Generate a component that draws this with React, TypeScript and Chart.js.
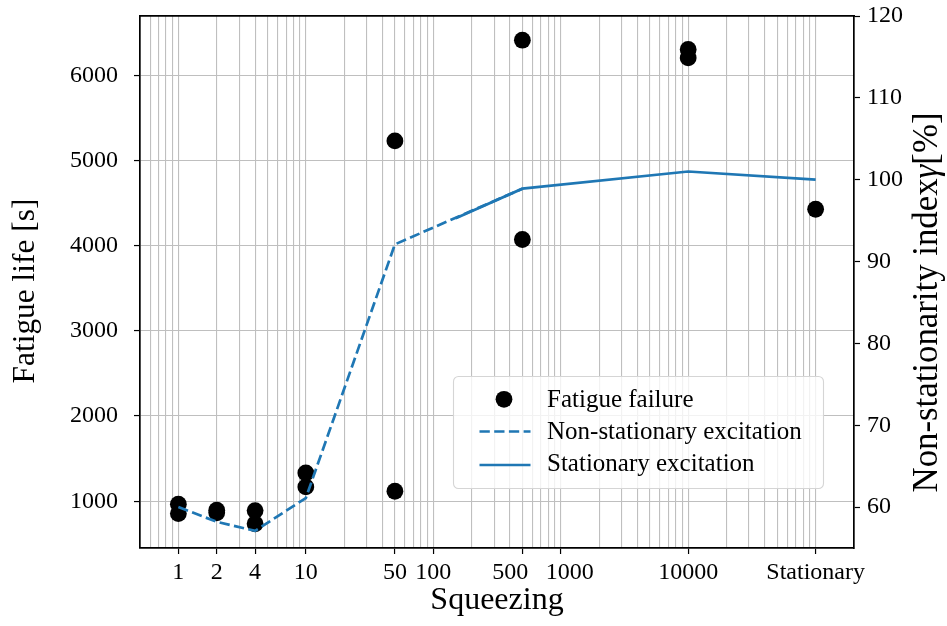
import React, { useEffect, useRef } from "react";
import { Chart, registerables } from "chart.js";

Chart.register(...registerables);

// ---- data ----
const squeezingTicks = [1, 2, 4, 10, 50, 100, 500, 1000, 10000, 100000];
const squeezingTickLabels = ["1", "2", "4", "10", "50", "100", "500\u2002\u2002", "\u2002 1000", "10000", "Stationary"];
const minorGridValues = [
  0.6, 0.7, 0.8, 0.9,
  3, 5, 6, 7, 8, 9,
  20, 30, 40, 60, 70, 80, 90,
  200, 300, 400, 600, 700, 800, 900,
  2000, 3000, 4000, 5000, 6000, 7000, 8000, 9000,
  20000, 30000, 40000, 50000, 60000, 70000, 80000, 90000,
];
const lifeTicks = [1000, 2000, 3000, 4000, 5000, 6000];
const indexTicks = [60, 70, 80, 90, 100, 110, 120];

const failureSqueezing = [1, 1, 2, 2, 4, 4, 10, 10, 50, 50, 500, 500, 10000, 10000, 100000];
const failureLife = [965, 855, 895, 865, 890, 735, 1332, 1168, 5229, 1117, 6411, 4072, 6302, 6203, 4427];

const nonStatSqueezing = [1, 2, 4, 10, 50, 500];
const nonStatIndex = [60.0, 58.2, 57.1, 61.1, 92.1, 98.9];

const statSqueezing = [150, 500, 10000, 100000];
const statIndex = [95.3, 98.9, 101.0, 100.0];

const legendLabels = ["Fatigue failure", "Non-stationary excitation", "Stationary excitation"];

export default function App() {
  const ref = useRef<HTMLCanvasElement>(null);

  useEffect(() => {
    document.body.style.margin = "0";
    const canvas = ref.current;
    if (!canvas) return;

    const FONT = "'Liberation Serif', 'Times New Roman', serif";
    const BLUE = "#1f77b4";
    const GRID = "#bfbfbf";
    const DASH = [10.3, 4.4];
    const LW = 2.7;
    const R = 8.4;

    const allX = [...squeezingTicks, ...minorGridValues].sort((a, b) => a - b);
    const isMajor = (v: number) => squeezingTicks.indexOf(v) >= 0;

    const overlay = {
      id: "overlay",
      afterDraw(chart: any) {
        const ctx = chart.ctx as CanvasRenderingContext2D;
        ctx.save();
        ctx.fillStyle = "#000";
        ctx.textBaseline = "alphabetic";

        // left title
        {
          const text = "Fatigue life [s]";
          const target = 185;
          ctx.font = `32px ${FONT}`;
          const w0 = ctx.measureText(text).width;
          const size = (32 * target) / w0;
          ctx.font = `${size}px ${FONT}`;
          ctx.save();
          ctx.translate(34.3, 291);
          ctx.rotate(-Math.PI / 2);
          ctx.textAlign = "center";
          ctx.fillText(text, 0, 0);
          ctx.restore();
        }
        // right title
        {
          const parts = [
            { t: "Non-stationarity index", it: false },
            { t: "\u03B3", it: true },
            { t: "[%]", it: false },
          ];
          const target = 380;
          const measure = (s: number) =>
            parts.reduce((acc, p) => {
              ctx.font = `${p.it ? "italic " : ""}${s}px ${FONT}`;
              return acc + ctx.measureText(p.t).width;
            }, 0);
          const size = (32 * target) / measure(32);
          const total = measure(size);
          ctx.save();
          ctx.translate(936.7, 302.5);
          ctx.rotate(-Math.PI / 2);
          ctx.textAlign = "left";
          let x = -total / 2;
          for (const p of parts) {
            ctx.font = `${p.it ? "italic " : ""}${size}px ${FONT}`;
            ctx.fillText(p.t, x, 0);
            x += ctx.measureText(p.t).width;
          }
          ctx.restore();
        }

        // legend box
        const bx = 453.5, by = 376.5, bw = 370, bh = 112, br = 5;
        ctx.beginPath();
        ctx.moveTo(bx + br, by);
        ctx.lineTo(bx + bw - br, by);
        ctx.arcTo(bx + bw, by, bx + bw, by + br, br);
        ctx.lineTo(bx + bw, by + bh - br);
        ctx.arcTo(bx + bw, by + bh, bx + bw - br, by + bh, br);
        ctx.lineTo(bx + br, by + bh);
        ctx.arcTo(bx, by + bh, bx, by + bh - br, br);
        ctx.lineTo(bx, by + br);
        ctx.arcTo(bx, by, bx + br, by, br);
        ctx.closePath();
        ctx.fillStyle = "rgba(255,255,255,0.8)";
        ctx.fill();
        ctx.strokeStyle = "#d5d5d5";
        ctx.lineWidth = 1.1;
        ctx.stroke();

        const ds = chart.data.datasets;
        // marker
        ctx.beginPath();
        ctx.arc(504, 399.3, R, 0, Math.PI * 2);
        ctx.fillStyle = ds[0].backgroundColor;
        ctx.fill();
        // dashed
        ctx.beginPath();
        ctx.setLineDash(DASH);
        ctx.moveTo(479.5, 431.5);
        ctx.lineTo(530.5, 431.5);
        ctx.strokeStyle = ds[1].borderColor;
        ctx.lineWidth = LW;
        ctx.stroke();
        ctx.setLineDash([]);
        // solid
        ctx.beginPath();
        ctx.moveTo(479.5, 465);
        ctx.lineTo(530.5, 465);
        ctx.strokeStyle = ds[2].borderColor;
        ctx.lineWidth = LW;
        ctx.stroke();

        ctx.fillStyle = "#000";
        ctx.textAlign = "left";
        ctx.font = `25px ${FONT}`;
        const baselines = [406.7, 439.3, 471];
        legendLabels.forEach((l, i) => ctx.fillText(l, 547, baselines[i]));
        ctx.restore();
      },
    };

    const chart = new Chart(canvas, {
      type: "scatter",
      data: {
        datasets: [
          {
            type: "scatter",
            label: legendLabels[0],
            data: failureSqueezing.map((x, i) => ({ x, y: failureLife[i] })),
            xAxisID: "x",
            yAxisID: "y",
            pointRadius: R,
            pointHoverRadius: R,
            backgroundColor: "#000",
            borderColor: "#000",
            borderWidth: 0,
            order: 2,
          },
          {
            type: "line",
            label: legendLabels[1],
            data: nonStatSqueezing.map((x, i) => ({ x, y: nonStatIndex[i] })),
            xAxisID: "x",
            yAxisID: "y2",
            borderColor: BLUE,
            backgroundColor: BLUE,
            borderWidth: LW,
            borderDash: DASH,
            pointRadius: 0,
            pointHoverRadius: 0,
            fill: false,
            tension: 0,
            order: 1,
          },
          {
            type: "line",
            label: legendLabels[2],
            data: statSqueezing.map((x, i) => ({ x, y: statIndex[i] })),
            xAxisID: "x",
            yAxisID: "y2",
            borderColor: BLUE,
            backgroundColor: BLUE,
            borderWidth: LW,
            pointRadius: 0,
            pointHoverRadius: 0,
            fill: false,
            tension: 0,
            order: 1,
          },
        ],
      } as any,
      options: {
        responsive: false,
        animation: false,
        devicePixelRatio: 1,
        events: [],
        layout: { padding: { top: 16, left: 0, right: 0, bottom: 0 } },
        plugins: { legend: { display: false }, tooltip: { enabled: false } },
        scales: {
          x: {
            type: "logarithmic",
            position: "bottom",
            min: 0.5,
            max: 200000,
            afterBuildTicks: (s: any) => {
              s.ticks = allX.map((v) => ({ value: v }));
            },
            afterFit: (s: any) => {
              s.height = 78;
              s.paddingLeft = 0;
              s.paddingRight = 0;
            },
            ticks: {
              autoSkip: false,
              maxRotation: 0,
              minRotation: 0,
              padding: 4,
              color: "#000",
              font: { family: FONT, size: 24 },
              callback: (v: any) => {
                const i = squeezingTicks.indexOf(Number(v));
                return i >= 0 ? squeezingTickLabels[i] : "";
              },
            },
            grid: {
              display: true,
              drawOnChartArea: true,
              color: GRID,
              lineWidth: 1.1,
              drawTicks: true,
              tickLength: 6,
              tickWidth: 1.2,
              tickColor: (c: any) => (c.tick && isMajor(c.tick.value) ? "#000" : "rgba(0,0,0,0)"),
            },
            border: { display: true, color: "#000", width: 1.7 },
            title: {
              display: true,
              text: "Squeezing",
              color: "#000",
              font: { family: FONT, size: 32 },
              padding: { top: 0, bottom: 6 },
            },
          },
          xTop: {
            type: "linear",
            position: "top",
            display: true,
            grid: { display: false, drawTicks: false },
            ticks: { display: false },
            border: { display: true, color: "#000", width: 1.7 },
            afterFit: (s: any) => {
              s.height = 0;
              s.paddingLeft = 0;
              s.paddingRight = 0;
            },
          },
          y: {
            type: "linear",
            position: "left",
            min: 451,
            max: 6695,
            afterBuildTicks: (s: any) => {
              s.ticks = lifeTicks.map((v) => ({ value: v }));
            },
            afterFit: (s: any) => {
              s.width = 140;
              s.paddingTop = 0;
              s.paddingBottom = 0;
            },
            ticks: {
              padding: 16,
              color: "#000",
              font: { family: FONT, size: 24 },
              callback: (v: any) => String(v),
            },
            grid: {
              color: GRID,
              lineWidth: 1.1,
              drawTicks: true,
              tickLength: 6,
              tickWidth: 1.2,
              tickColor: "#000",
            },
            border: { display: true, color: "#000", width: 1.7 },
          },
          y2: {
            type: "linear",
            position: "right",
            min: 55,
            max: 120,
            afterBuildTicks: (s: any) => {
              s.ticks = indexTicks.map((v) => ({ value: v }));
            },
            afterFit: (s: any) => {
              s.width = 93;
              s.paddingTop = 0;
              s.paddingBottom = 0;
            },
            ticks: {
              padding: 7,
              color: "#000",
              font: { family: FONT, size: 24 },
              callback: (v: any) => String(v),
            },
            grid: {
              drawOnChartArea: false,
              drawTicks: true,
              tickLength: 6,
              tickWidth: 1.2,
              tickColor: "#000",
              color: GRID,
            },
            border: { display: true, color: "#000", width: 1.7 },
          },
        },
      } as any,
      plugins: [overlay],
    });

    return () => chart.destroy();
  }, []);

  return (
    <div style={{ position: "relative", width: 947, height: 626 }}>
      <canvas ref={ref} width={947} height={626} style={{ display: "block", width: 947, height: 626 }} />
    </div>
  );
}
